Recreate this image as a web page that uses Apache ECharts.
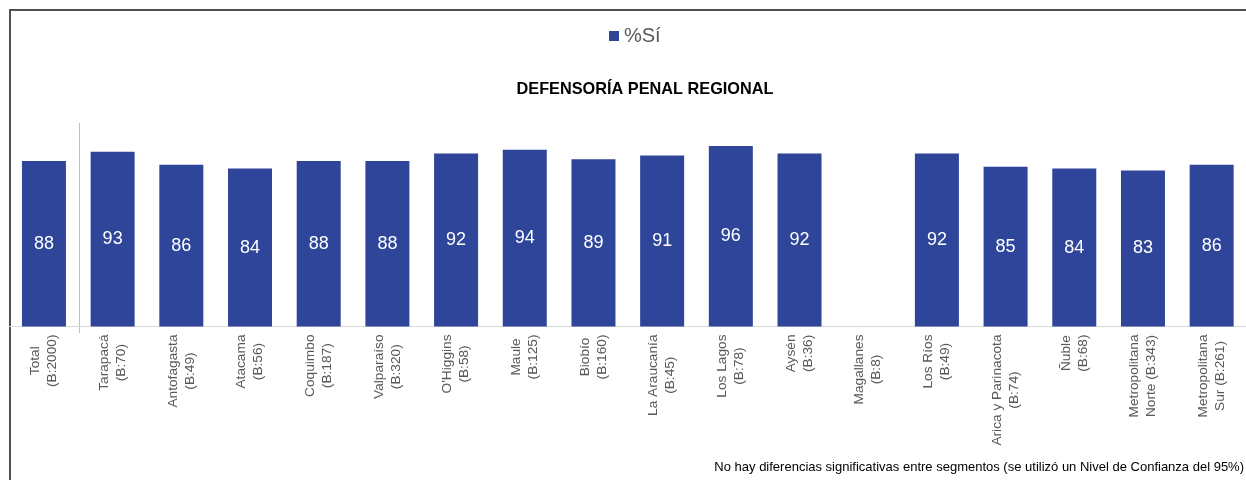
<!DOCTYPE html>
<html>
<head>
<meta charset="utf-8">
<script src="https://cdn.jsdelivr.net/npm/echarts@6/dist/echarts.min.js"></script>
<style>
  html, body { margin: 0; padding: 0; background: #fff; }
  #main { width: 1246px; height: 480px; }
</style>
</head>
<body>
<div id="main"></div>
<script>
// categorias (region + base)
var categories = [
    'Total\n(B:2000)', 'Tarapacá\n(B:70)', 'Antofagasta\n(B:49)', 'Atacama\n(B:56)',
    'Coquimbo\n(B:187)', 'Valparaíso\n(B:320)', "O'Higgins\n(B:58)", 'Maule\n(B:125)',
    'Biobío\n(B:160)', 'La Araucanía\n(B:45)', 'Los Lagos\n(B:78)', 'Aysén\n(B:36)',
    'Magallanes\n(B:8)', 'Los Ríos\n(B:49)', 'Arica y Parinacota\n(B:74)', 'Ñuble\n(B:68)',
    'Metropolitana\nNorte (B:343)', 'Metropolitana\nSur (B:261)'
];
// %Sí por region (Magallanes sin dato)
var siValues = [88, 93, 86, 84, 88, 88, 92, 94, 89, 91, 96, 92, null, 92, 85, 84, 83, 86];

var seriesName = '%Sí';
var titleText = 'DEFENSORÍA PENAL REGIONAL';
var noteText = 'No hay diferencias significativas entre segmentos (se utilizó un Nivel de Confianza del 95%)';

var FONT = '"Liberation Sans", Arial, sans-serif';

var chart = echarts.init(document.getElementById('main'), null, { renderer: 'canvas' });

var option = {
    animation: false,
    textStyle: { fontFamily: FONT },
    legend: {
        data: [seriesName],
        left: 604,
        top: 21,
        icon: 'rect',
        itemWidth: 10,
        itemHeight: 10,
        itemGap: 7,
        textStyle: { fontSize: 20, color: '#595959', fontFamily: FONT }
    },
    title: {
        text: titleText,
        left: 640,
        textAlign: 'center',
        top: 77,
        textStyle: { fontSize: 16.3, fontWeight: 'bold', color: '#000', fontFamily: FONT }
    },
    grid: {
        left: 9.6,
        top: 138.5,
        width: 1238.8,
        height: 188,
        containLabel: false
    },
    xAxis: {
        type: 'category',
        data: categories,
        axisLine: { lineStyle: { color: '#d9d9d9', width: 1 } },
        axisTick: { show: false },
        splitLine: { show: false },
        axisLabel: {
            interval: 0,
            rotate: 90,
            margin: 8,
            formatter: function (v) {
                return v.split('\n').map(function (s) { return '{c|' + s + '}'; }).join('\n');
            },
            rich: {
                c: { align: 'center', fontSize: 13.7, lineHeight: 17, color: '#595959', fontFamily: FONT }
            }
        }
    },
    yAxis: {
        type: 'value',
        min: 0,
        max: 100,
        show: false,
        splitLine: { show: false }
    },
    series: [
        {
            name: seriesName,
            type: 'bar',
            data: siValues,
            barWidth: 44,
            itemStyle: { color: '#2E4599' },
            label: {
                show: true,
                position: 'inside',
                color: '#fff',
                fontSize: 18,
                fontFamily: FONT
            }
        }
    ]
};

chart.setOption(option);

// linea separadora entre Total y las regiones
var x0 = chart.convertToPixel({ xAxisIndex: 0 }, categories[0]);
var x1 = chart.convertToPixel({ xAxisIndex: 0 }, categories[1]);
var sepX = Math.round((x0 + x1) / 2) + 1.5;
chart.setOption({
    graphic: [
        // marco del recuadro
        { type: 'rect', shape: { x: 9, y: 9, width: 1237, height: 2 }, style: { fill: '#505050' }, silent: true },
        { type: 'rect', shape: { x: 9, y: 9, width: 2, height: 471 }, style: { fill: '#505050' }, silent: true },
        {
            type: 'text',
            right: 2,
            top: 461,
            style: { text: noteText, fill: '#000', font: '13px ' + FONT }
        },
        {
            type: 'line',
            shape: { x1: sepX, y1: 123, x2: sepX, y2: 333 },
            style: { stroke: '#bfbfbf', lineWidth: 1 },
            silent: true
        }
    ]
});

window.addEventListener('resize', chart.resize);
</script>
</body>
</html>
